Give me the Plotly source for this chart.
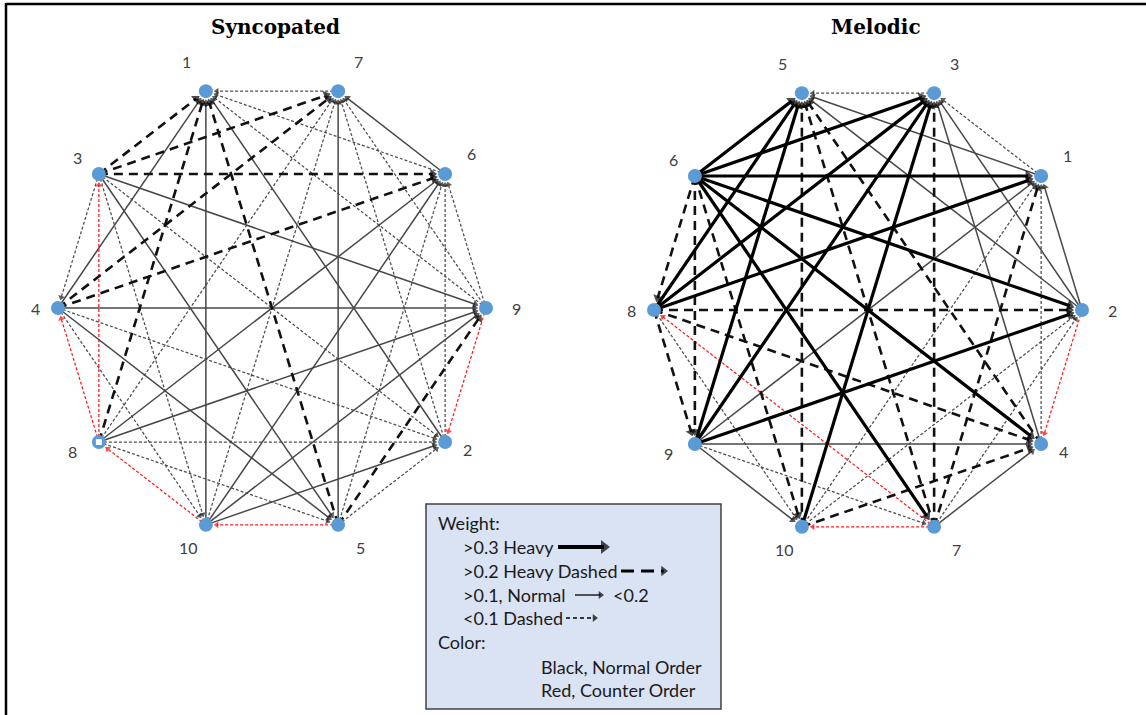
import math
import plotly.graph_objects as go

W, H = 1146, 715

# Node order around each ring, clockwise from the upper-left vertex.
SYNC_ORDER = ["1", "7", "6", "9", "2", "5", "10", "8", "4", "3"]
MELO_ORDER = ["5", "3", "1", "2", "4", "7", "10", "9", "8", "6"]

# Directed edges (source, target, weight class).
# H: >0.3 heavy, HD: >0.2 heavy dashed, N: 0.1-0.2 normal, D: <0.1 dashed, R: counter order
SYNC_EDGES = [
    ("7", "1", "D"), ("6", "1", "D"), ("9", "1", "D"), ("2", "1", "N"), ("5", "1", "HD"),
    ("10", "1", "N"), ("8", "1", "HD"), ("4", "1", "N"), ("3", "1", "HD"),
    ("6", "7", "N"), ("9", "7", "D"), ("2", "7", "D"), ("5", "7", "N"), ("10", "7", "D"),
    ("8", "7", "D"), ("4", "7", "HD"), ("3", "7", "HD"),
    ("9", "6", "D"), ("2", "6", "D"), ("5", "6", "D"), ("10", "6", "N"), ("8", "6", "N"),
    ("4", "6", "HD"), ("3", "6", "HD"),
    ("9", "2", "R"), ("5", "9", "HD"), ("10", "9", "N"), ("8", "9", "N"), ("4", "9", "N"),
    ("3", "9", "N"),
    ("5", "2", "D"), ("10", "2", "N"), ("8", "2", "D"), ("4", "2", "D"), ("3", "2", "D"),
    ("5", "10", "R"), ("8", "5", "D"), ("4", "5", "N"), ("3", "5", "N"),
    ("10", "8", "R"), ("4", "10", "D"), ("3", "10", "D"),
    ("8", "4", "R"), ("8", "3", "R"), ("3", "4", "D"),
]

MELO_EDGES = [
    ("3", "5", "D"), ("1", "5", "N"), ("2", "5", "N"), ("4", "5", "HD"), ("7", "5", "HD"),
    ("10", "5", "HD"), ("9", "5", "H"), ("8", "5", "H"), ("6", "5", "H"),
    ("1", "3", "D"), ("2", "3", "N"), ("4", "3", "N"), ("7", "3", "HD"), ("10", "3", "H"),
    ("9", "3", "H"), ("8", "3", "H"), ("6", "3", "H"),
    ("2", "1", "N"), ("4", "1", "D"), ("7", "1", "HD"), ("10", "1", "D"), ("9", "1", "N"),
    ("8", "1", "H"), ("6", "1", "H"),
    ("2", "4", "R"), ("7", "2", "D"), ("10", "2", "D"), ("9", "2", "H"), ("8", "2", "HD"),
    ("6", "2", "H"),
    ("7", "4", "N"), ("10", "4", "HD"), ("9", "4", "N"), ("8", "4", "HD"), ("6", "4", "H"),
    ("7", "10", "R"), ("9", "7", "D"), ("7", "8", "R"), ("6", "7", "H"),
    ("9", "10", "N"), ("8", "10", "D"), ("6", "10", "HD"),
    ("8", "9", "HD"), ("6", "9", "HD"), ("6", "8", "HD"),
]

SYNC_HOLLOW = ["8"]

STYLE = {
    "H":  dict(color="#000000", head_color="#000000", width=3.2, dash="solid", head=10),
    "HD": dict(color="#111111", head_color="#000000", width=2.6, dash="9px,6px", head=9),
    "N":  dict(color="#474747", head_color="#1a1a1a", width=1.5, dash="solid", head=7),
    "D":  dict(color="#4d4d4d", head_color="#1a1a1a", width=1.25, dash="3px,2px", head=6),
    "R":  dict(color="#ff1a1a", head_color="#ff0000", width=1.25, dash="3px,2px", head=6),
}

# label nudges per ring slot (pixels)
LABEL_NUDGE = [(-19, -30), (20, -30), (26, -20), (30, 0), (22, 7),
               (22, 23), (-17, 23), (-26, 9), (-23, 0), (-21, -16)]

NODE_BLUE = "#5b9bd5"
TIP_GAP = 8.0


def ring(order, cx, cy, rx=214, ry=228):
    pos = {}
    for k, name in enumerate(order):
        a = math.radians(108 - 36 * k)
        pos[name] = (cx + rx * math.cos(a), cy - ry * math.sin(a))
    return pos


fig = go.Figure()


def add_arrow(p0, p1, color, width, dash, head, gap, head_color=None):
    """Line p0->p1 whose triangular head tip stops `gap` px before p1."""
    dx, dy = p1[0] - p0[0], p1[1] - p0[1]
    L = math.hypot(dx, dy)
    ux, uy = dx / L, dy / L
    back = gap + head / 2.0
    ex, ey = p1[0] - ux * back, p1[1] - uy * back
    fig.add_trace(go.Scatter(
        x=[p0[0], ex], y=[p0[1], ey], mode="lines+markers",
        line=dict(color=color, width=width, dash=dash),
        marker=dict(symbol="triangle-up", angleref="previous",
                    size=[0, head], color=head_color or color, line=dict(width=0)),
        hoverinfo="skip", showlegend=False))


def draw_graph(order, edges, cx, cy, hollow=()):
    pos = ring(order, cx, cy)
    # lighter strokes underneath, heavy ones on top
    rank = {"D": 0, "R": 1, "N": 2, "HD": 3, "H": 4}
    for s, t, kind in sorted(edges, key=lambda e: rank[e[2]]):
        st = STYLE[kind]
        add_arrow(pos[s], pos[t], st["color"], st["width"], st["dash"], st["head"],
                  TIP_GAP, st["head_color"])
    xs = [pos[n][0] for n in order]
    ys = [pos[n][1] for n in order]
    fig.add_trace(go.Scatter(x=xs, y=ys, mode="markers",
                             marker=dict(size=14, color=NODE_BLUE, line=dict(width=0)),
                             hoverinfo="skip", showlegend=False))
    hx = [pos[n][0] for n in hollow]
    hy = [pos[n][1] for n in hollow]
    if hx:
        fig.add_trace(go.Scatter(x=hx, y=hy, mode="markers",
                                 marker=dict(size=6, symbol="square", color="white",
                                             line=dict(width=0)),
                                 hoverinfo="skip", showlegend=False))
    for k, n in enumerate(order):
        nx, ny = LABEL_NUDGE[k]
        fig.add_annotation(x=pos[n][0] + nx, y=pos[n][1] + ny, text=n, showarrow=False,
                           font=dict(family="Lato", size=16, color="#404040"),
                           xanchor="center", yanchor="middle")


draw_graph(SYNC_ORDER, SYNC_EDGES, 272, 308, SYNC_HOLLOW)
draw_graph(MELO_ORDER, MELO_EDGES, 868, 310)

# titles
fig.add_annotation(x=275, y=27, text="<b>Syncopated</b>", showarrow=False,
                   font=dict(family="DejaVu Serif", size=20, color="#000000"))
fig.add_annotation(x=876, y=27, text="<b>Melodic</b>", showarrow=False,
                   font=dict(family="DejaVu Serif", size=20, color="#000000"))

# outer frame
fig.add_shape(type="line", x0=6, x1=6, y0=3, y1=H, line=dict(color="black", width=2.5))
fig.add_shape(type="line", x0=6, x1=W, y0=4, y1=4, line=dict(color="black", width=2.5))

# legend box
fig.add_shape(type="rect", x0=426, x1=721, y0=504, y1=709,
              fillcolor="#dae3f3", line=dict(color="#404040", width=1.5), layer="below")

LEG_FONT = dict(family="Lato", size=18, color="#1a1a1a")
legend_rows = [
    (436, 523, "Weight:"),
    (461, 547, ">0.3 Heavy"),
    (461, 571, ">0.2 Heavy Dashed"),
    (461, 595, ">0.1, Normal"),
    (611, 595, "<0.2"),
    (461, 618, "<0.1 Dashed"),
    (436, 642, "Color:"),
    (539, 667, "Black, Normal Order"),
    (539, 690, "Red, Counter Order"),
]
for lx, ly, txt in legend_rows:
    fig.add_annotation(x=lx, y=ly, text=txt, showarrow=False, xanchor="left",
                       yanchor="middle", font=LEG_FONT)

# legend sample strokes
add_arrow((558, 547), (610, 547), "black", 4, "solid", 12, 0)
add_arrow((621, 571), (668, 571), "black", 3, "13px,7px", 9, 0)
add_arrow((575, 595), (604, 595), "black", 1.3, "solid", 7, 0)
add_arrow((566, 618), (598, 618), "black", 1.3, "4px,3px", 7, 0)

fig.update_layout(
    width=W, height=H, margin=dict(l=0, r=0, t=0, b=0),
    paper_bgcolor="white", plot_bgcolor="white",
    xaxis=dict(range=[0, W], visible=False, fixedrange=True),
    yaxis=dict(range=[H, 0], visible=False, fixedrange=True),
)

fig.write_html("out.html")
